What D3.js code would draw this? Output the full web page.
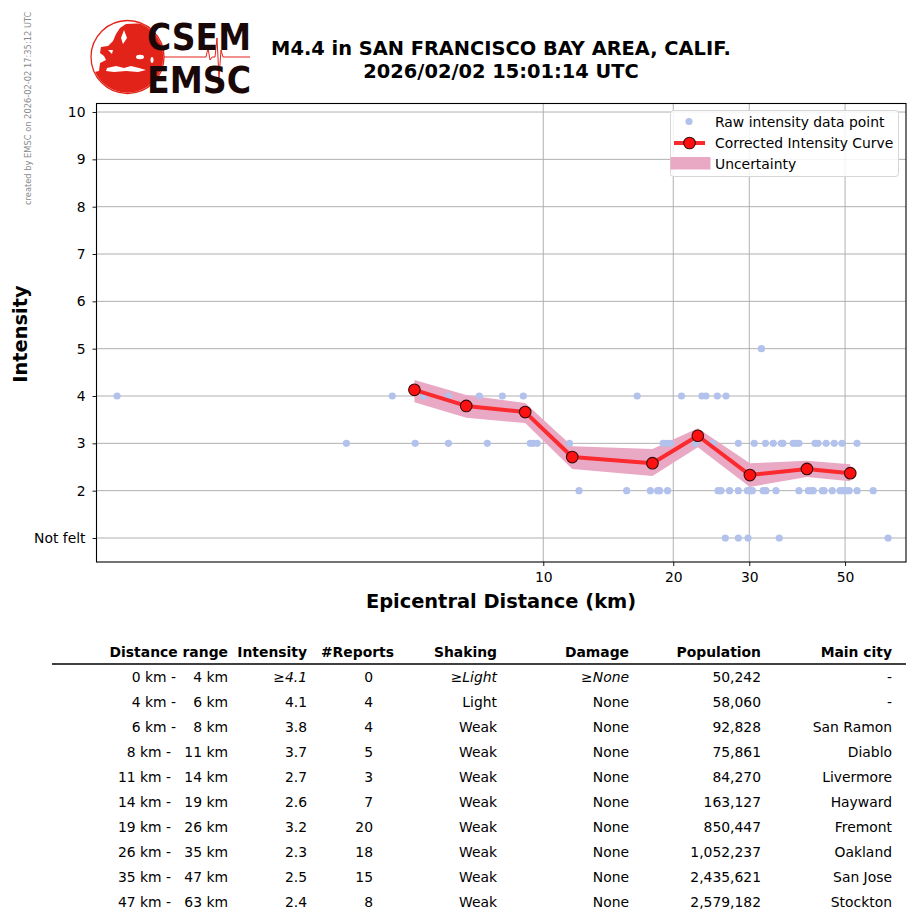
<!DOCTYPE html>
<html>
<head>
<meta charset="UTF-8">
<style>
  * { margin: 0; padding: 0; }
  body { background: #fff; width: 915px; height: 924px; overflow: hidden; }
  svg text { font-family: "DejaVu Sans", sans-serif; }
</style>
<script src="https://d3js.org/d3.v7.min.js"></script>
<title>EMSC intensity</title>
</head>
<body>
<svg id="chart" width="915" height="924"></svg>
<script>
// raw reports: distance (km) per intensity level
var rawI1 = [26.4, 28.3, 29.8, 35.2, 62.9];
var rawI2 = [12.1, 15.6, 17.7, 18.4, 18.6, 19.4, 25.4, 25.8, 27.0, 28.3, 29.7, 30.1, 30.5,
             32.3, 32.8, 34.6, 39.1, 41.1, 41.7, 42.2, 44.3, 44.7, 46.7, 48.7, 49.5, 50.3, 51.1, 53.3, 58.1];
var rawI3 = [3.50, 5.05, 6.03, 7.42, 9.33, 9.48, 9.68, 11.5, 18.95, 19.3, 19.7, 22.5, 24.7, 28.3,
             30.8, 32.7, 34.1, 35.6, 35.9, 37.9, 38.5, 39.1, 42.6, 43.3, 45.2, 47.2, 49.2, 53.3];
var rawI4 = [1.03, 4.47, 5.28, 6.03, 7.11, 8.04, 8.99, 16.5, 20.9, 23.3, 23.8, 25.3, 26.5];
var rawI5 = [32.0];

// corrected intensity curve
var curveDist = [5.03, 6.63, 9.08, 11.67, 17.9, 22.8, 30.1, 40.8, 51.4];
var curveInt  = [4.13, 3.79, 3.66, 2.71, 2.58, 3.16, 2.33, 2.46, 2.37];
var curveLo   = [3.87, 3.54, 3.43, 2.46, 2.31, 2.92, 2.08, 2.29, 2.20];
var curveHi   = [4.34, 4.02, 3.85, 2.94, 2.88, 3.32, 2.58, 2.63, 2.56];

var xTicks = [10, 20, 30, 50];
var yTicks = [1, 2, 3, 4, 5, 6, 7, 8, 9, 10];

// table
var tblHead = ["Distance range", "Intensity", "#Reports", "Shaking", "Damage", "Population", "Main city"];
var rangeLo = [0, 4, 6, 8, 11, 14, 19, 26, 35, 47];
var rangeHi = [4, 6, 8, 11, 14, 19, 26, 35, 47, 63];
var tblIntensity = ["≥4.1", "4.1", "3.8", "3.7", "2.7", "2.6", "3.2", "2.3", "2.5", "2.4"];
var tblReports = [0, 4, 4, 5, 3, 7, 20, 18, 15, 8];
var tblShaking = ["≥Light", "Light", "Weak", "Weak", "Weak", "Weak", "Weak", "Weak", "Weak", "Weak"];
var tblDamage = ["≥None", "None", "None", "None", "None", "None", "None", "None", "None", "None"];
var tblPopulation = [50242, 58060, 92828, 75861, 84270, 163127, 850447, 1052237, 2435621, 2579182];
var tblCity = ["-", "-", "San Ramon", "Diablo", "Livermore", "Hayward", "Fremont", "Oakland", "San Jose", "Stockton"];

var svg = d3.select("#chart");
var FS = "13.9px";

// ---------- header: logo + title ----------
svg.append("text")
    .attr("transform", "translate(31,205) rotate(-90)")
    .attr("font-size", "8.3px").attr("fill", "#8a8a8a")
    .text("created by EMSC on 2026-02-02 17:35:12 UTC");

var logo = svg.append("g");
svg.append("clipPath").attr("id", "globe")
    .append("circle").attr("cx", 127.5).attr("cy", 57).attr("r", 35.8);
var map = logo.append("g").attr("clip-path", "url(#globe)");
map.append("path").attr("fill", "#e2231a")
    .attr("d", "M120,28 L126,24 L168,22 L168,96 L90,96 L90,73 L99,71 L100,63 L106,60 L104,56 " +
               "L100,53 L101,47 L108,46 L113,41 L116,34 Z");
map.append("path").attr("fill", "#fff")
    .attr("d", "M107,68 L116,66 L124,68 L131,66 L139,68 L146,70 L138,72 L126,71 L114,72 L106,71 Z");
map.append("path").attr("fill", "#fff")
    .attr("d", "M124,30 L127,38 L123,44 L121,38 Z M108,50 L113,50 L112,54 Z");
map.append("ellipse").attr("cx", 140).attr("cy", 57).attr("rx", 4).attr("ry", 2.2).attr("fill", "#fff");
map.append("ellipse").attr("cx", 152).attr("cy", 60).attr("rx", 1.5).attr("ry", 3).attr("fill", "#fff");
logo.append("circle").attr("cx", 127.5).attr("cy", 57).attr("r", 36.5)
    .attr("fill", "none").attr("stroke", "#e2231a").attr("stroke-width", 1.3);
logo.append("polyline")
    .attr("fill", "none").attr("stroke", "#e2231a").attr("stroke-width", 1)
    .attr("points", "164,57 206,57 208,48 210,60 212,57 215,57 217,38 219,78 221,50 223,57 250,57");
logo.append("text").attr("x", 147).attr("y", 50)
    .attr("font-size", "37px").attr("font-weight", "bold").attr("fill", "#1a0808")
    .attr("textLength", 104).attr("lengthAdjust", "spacingAndGlyphs").text("CSEM");
logo.append("text").attr("x", 147).attr("y", 93)
    .attr("font-size", "37px").attr("font-weight", "bold").attr("fill", "#1a0808")
    .attr("textLength", 104).attr("lengthAdjust", "spacingAndGlyphs").text("EMSC");

svg.append("text").attr("x", 501).attr("y", 55)
    .attr("text-anchor", "middle").attr("font-size", "19.4px").attr("font-weight", "bold")
    .text("M4.4 in SAN FRANCISCO BAY AREA, CALIF.");
svg.append("text").attr("x", 501).attr("y", 78)
    .attr("text-anchor", "middle").attr("font-size", "19.4px").attr("font-weight", "bold")
    .text("2026/02/02 15:01:14 UTC");

// ---------- plot ----------
var pLeft = 96.5, pRight = 906, pTop = 103.5, pBottom = 562;

var x = d3.scaleLog().domain([0.923, 69.2]).range([pLeft, pRight]);
var y = d3.scaleLinear().domain([0.493, 10.18]).range([pBottom, pTop]);

var g = svg.append("g");

// grid
g.selectAll(".gy").data(yTicks).enter().append("line")
    .attr("x1", pLeft).attr("x2", pRight)
    .attr("y1", function(d) { return y(d); }).attr("y2", function(d) { return y(d); })
    .attr("stroke", "#b0b0b0").attr("stroke-width", 1);
g.selectAll(".gx").data(xTicks).enter().append("line")
    .attr("y1", pTop).attr("y2", pBottom)
    .attr("x1", function(d) { return x(d); }).attr("x2", function(d) { return x(d); })
    .attr("stroke", "#b0b0b0").attr("stroke-width", 1);

// axes
var xAxis = g.append("g")
    .attr("transform", "translate(0," + pBottom + ")")
    .call(d3.axisBottom(x).tickValues(xTicks).tickFormat(d3.format("d")).tickSize(4).tickPadding(6));
var yAxis = g.append("g")
    .attr("transform", "translate(" + pLeft + ",0)")
    .call(d3.axisLeft(y).tickValues(yTicks)
        .tickFormat(function(d) { return d === 1 ? "Not felt" : d; }).tickSize(4).tickPadding(7));
[xAxis, yAxis].forEach(function(a) {
    a.select(".domain").remove();
    a.selectAll("text").attr("font-size", FS).attr("fill", "#000")
        .attr("font-family", "DejaVu Sans, sans-serif");
    a.selectAll("line").attr("stroke", "#000").attr("stroke-width", 0.9);
});

// raw points
var raw = [];
[rawI1, rawI2, rawI3, rawI4, rawI5].forEach(function(arr, i) {
    arr.forEach(function(d) { raw.push({ d: d, v: i + 1 }); });
});

var band = d3.area()
    .x(function(d, i) { return x(curveDist[i]); })
    .y0(function(d, i) { return y(curveLo[i]); })
    .y1(function(d, i) { return y(curveHi[i]); });
g.append("path").datum(curveDist)
    .attr("d", band).attr("fill", "#e9a9c4");

g.selectAll(".raw").data(raw).enter().append("circle")
    .attr("cx", function(d) { return x(d.d); })
    .attr("cy", function(d) { return y(d.v); })
    .attr("r", 3.6).attr("fill", "#b2c2ec");

var line = d3.line()
    .x(function(d, i) { return x(curveDist[i]); })
    .y(function(d, i) { return y(curveInt[i]); });
g.append("path").datum(curveInt)
    .attr("d", line).attr("fill", "none")
    .attr("stroke", "#fb2a2e").attr("stroke-width", 4).attr("stroke-linejoin", "round");

g.selectAll(".pt").data(curveInt).enter().append("circle")
    .attr("cx", function(d, i) { return x(curveDist[i]); })
    .attr("cy", function(d) { return y(d); })
    .attr("r", 5.8).attr("fill", "#ff1010").attr("stroke", "#3a0a0a").attr("stroke-width", 1.1);

// frame
g.append("rect").attr("x", pLeft).attr("y", pTop)
    .attr("width", pRight - pLeft).attr("height", pBottom - pTop)
    .attr("fill", "none").attr("stroke", "#000").attr("stroke-width", 1.1);

// labels
svg.append("text").attr("x", 501).attr("y", 608)
    .attr("text-anchor", "middle").attr("font-size", "19.4px").attr("font-weight", "bold")
    .text("Epicentral Distance (km)");
svg.append("text").attr("transform", "translate(27,334) rotate(-90)")
    .attr("text-anchor", "middle").attr("font-size", "19.4px").attr("font-weight", "bold")
    .text("Intensity");

// legend
var lg = svg.append("g");
lg.append("rect").attr("x", 670.5).attr("y", 110.5).attr("width", 228).attr("height", 66)
    .attr("rx", 3).attr("fill", "#fff").attr("fill-opacity", 0.85)
    .attr("stroke", "#d6d6d6").attr("stroke-width", 1);
lg.append("circle").attr("cx", 689).attr("cy", 121.5).attr("r", 3.6).attr("fill", "#b2c2ec");
lg.append("line").attr("x1", 674).attr("x2", 705).attr("y1", 143).attr("y2", 143)
    .attr("stroke", "#fb2a2e").attr("stroke-width", 4);
lg.append("circle").attr("cx", 689.5).attr("cy", 143).attr("r", 5.8)
    .attr("fill", "#ff1010").attr("stroke", "#3a0a0a").attr("stroke-width", 1.1);
lg.append("rect").attr("x", 670.5).attr("y", 157).attr("width", 40).attr("height", 12.5)
    .attr("fill", "#e9a9c4");
["Raw intensity data point", "Corrected Intensity Curve", "Uncertainty"].forEach(function(t, i) {
    lg.append("text").attr("x", 715).attr("y", 127 + i * 21)
        .attr("font-size", FS).text(t);
});

// ---------- table ----------
var colRight = [228, 307, 394, 497, 629, 761, 892];
var tb = svg.append("g");
tb.selectAll(".th").data(tblHead).enter().append("text")
    .attr("x", function(d, i) { return colRight[i]; })
    .attr("y", 657).attr("text-anchor", "end")
    .attr("font-size", FS).attr("font-weight", "bold")
    .text(function(d) { return d; });
tb.append("line").attr("x1", 52).attr("x2", 906).attr("y1", 664).attr("y2", 664)
    .attr("stroke", "#000").attr("stroke-width", 1.4);

var fmt = d3.format(",");
var rows = rangeLo.map(function(d, i) {
    return [d, rangeHi[i], tblIntensity[i], tblReports[i], tblShaking[i], tblDamage[i],
            fmt(tblPopulation[i]), tblCity[i]];
});
var rowG = tb.selectAll(".tr").data(rows).enter().append("g")
    .attr("transform", function(d, i) { return "translate(0," + (682 + i * 25) + ")"; });

rowG.append("text")
    .attr("x", function(d) { return d[1] < 10 ? 176 : 171; })
    .attr("text-anchor", "end").attr("font-size", FS)
    .text(function(d) { return d[0] + " km -"; });
rowG.append("text")
    .attr("x", 228).attr("text-anchor", "end").attr("font-size", FS)
    .text(function(d) { return d[1] + " km"; });

var cellRight = [307, 373, 497, 629, 761, 892];
cellRight.forEach(function(cx, c) {
    rowG.append("text")
        .attr("x", cx).attr("text-anchor", "end").attr("font-size", FS)
        .attr("font-style", function(d, i) { return (i === 0 && c !== 1 && c < 4) ? "italic" : "normal"; })
        .text(function(d) { return d[c + 2]; });
});
</script>
</body>
</html>
